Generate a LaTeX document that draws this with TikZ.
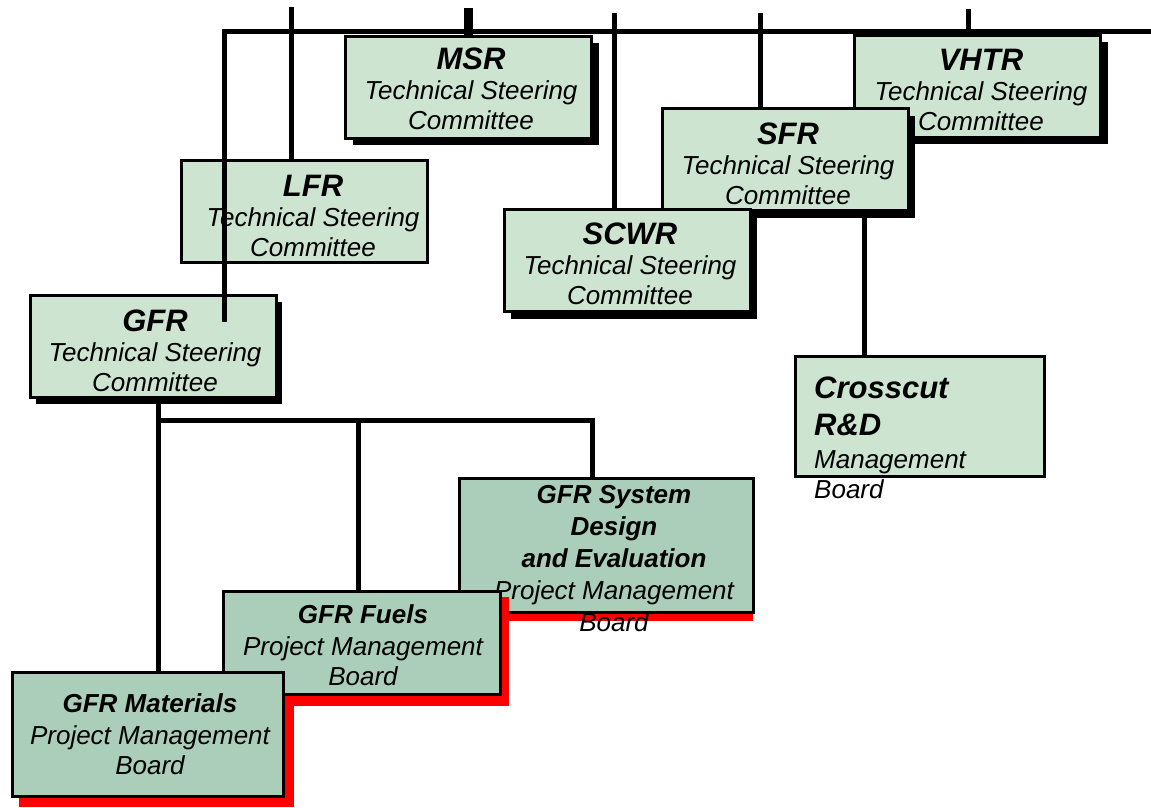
\documentclass[tikz,border=0pt]{standalone}
\usepackage{fontspec}
\setmainfont{Liberation Sans}
\usetikzlibrary{shadows}
\definecolor{lightg}{RGB}{205,229,208}
\definecolor{darkg}{RGB}{171,206,186}
\newcommand\tA[1]{{\fontsize{31}{30}\selectfont\bfseries #1}}
\newcommand\tB[1]{{\bfseries #1}}
\begin{document}
\begin{tikzpicture}[x=1pt,y=-1pt,
  tbox/.style={draw,line width=3pt,inner sep=0pt},
  tsc/.style={tbox,fill=lightg,minimum width=246pt,minimum height=102pt},
  blk/.style={drop shadow={shadow xshift=7pt,shadow yshift=-7pt,opacity=1,fill=black}},
  pmb/.style={tbox,fill=darkg},
  txt/.style={inner sep=0pt,align=center,font=\fontsize{26}{30}\selectfont\itshape,anchor=north},
  wire/.style={line width=5pt,line join=miter}]
\useasboundingbox (0,0) rectangle (1151,807);
% technical steering committees
\node[tsc,blk] (vhtr) at (977.5,86) {};
\node[txt] (vhtrT) at (981,49) {\tA{VHTR}\\Technical Steering\\Committee};
\node[tsc,blk] (msr) at (468.5,87) {};
\node[txt] (msrT) at (471,48) {\tA{MSR}\\Technical Steering\\Committee};
\node[tsc,blk] (sfr) at (785,159.5) {};
\node[txt] (sfrT) at (788,123) {\tA{SFR}\\Technical Steering\\Committee};
\node[tsc,blk] (scwr) at (627,260.5) {};
\node[txt] (scwrT) at (630,223) {\tA{SCWR}\\Technical Steering\\Committee};
\node[tsc] (lfr) at (304,211.5) {};
\node[txt] (lfrT) at (313,175) {\tA{LFR}\\Technical Steering\\Committee};
\node[tsc,drop shadow={shadow xshift=5.5pt,shadow yshift=-6.5pt,opacity=1,fill=black}] (gfr) at (153.5,346.5) {};
\node[txt] (gfrT) at (155,309.5) {\tA{GFR}\\Technical Steering\\Committee};
\node[tbox,fill=lightg,minimum width=249pt,minimum height=120pt] (cross) at (920,416.5) {};
\node[txt,anchor=north west,align=left] (crossT) at (814,377) {\tA{Crosscut}\\[7pt]\tA{R\&D}\\[3pt]Management\\Board};
% project management boards
\fill[red] (470,610) rectangle (753,621);
\node[pmb,minimum width=294pt,minimum height=134pt] (sys) at (606.5,545.5) {};
\node[txt,font=\fontsize{26}{32}\selectfont\itshape] (sysT) at (614,485) {\tB{GFR System}\\\tB{Design}\\\tB{and Evaluation}\\Project Management\\Board};
\fill[red] (19,679) rectangle (294,807);
\fill[red] (229,597) rectangle (509,706);
\node[pmb,minimum width=277pt,minimum height=103pt] (fuels) at (362,643) {};
\node[txt] (fuelsT) at (363,604) {\tB{GFR Fuels}\\[2pt]Project Management\\Board};
\node[pmb,minimum width=271pt,minimum height=124pt] (mat) at (148,734.5) {};
\node[txt] (matT) at (150,693) {\tB{GFR Materials}\\[2pt]Project Management\\Board};
% bus and connectors
\coordinate (busR) at (1151,31);
\coordinate (busL) at (224,31);
\coordinate (gfrIn) at (224,322);
\draw[wire] (busR) -- (busL) -- (gfrIn);
\coordinate (tL) at (291,7);
\draw[wire] (tL) -- (tL |- lfr.north);
\coordinate (tM) at (468,8);
\draw[line width=9pt] (tM) -- (tM |- msr.north);
\coordinate (tSC) at (614,13);
\draw[wire] (tSC) -- (tSC |- scwr.north);
\coordinate (tSF) at (760,13);
\draw[wire] (tSF) -- (tSF |- sfr.north);
\coordinate (tV) at (968,9);
\draw[wire] (tV) -- (tV |- vhtr.north);
\coordinate (xc) at (864,0);
\draw[wire] (sfr.south -| xc) -- (cross.north -| xc);
% GFR tree
\coordinate (j0) at (158,420);
\coordinate (j2) at (358,420);
\coordinate (j3) at (592,420);
\draw[wire] (gfr.south -| j0) -- (mat.north -| j0);
\draw[wire] (j0) -- (j3) -- (sys.north -| j3);
\draw[wire] (j2) -- (fuels.north -| j2);
\end{tikzpicture}
\end{document}
